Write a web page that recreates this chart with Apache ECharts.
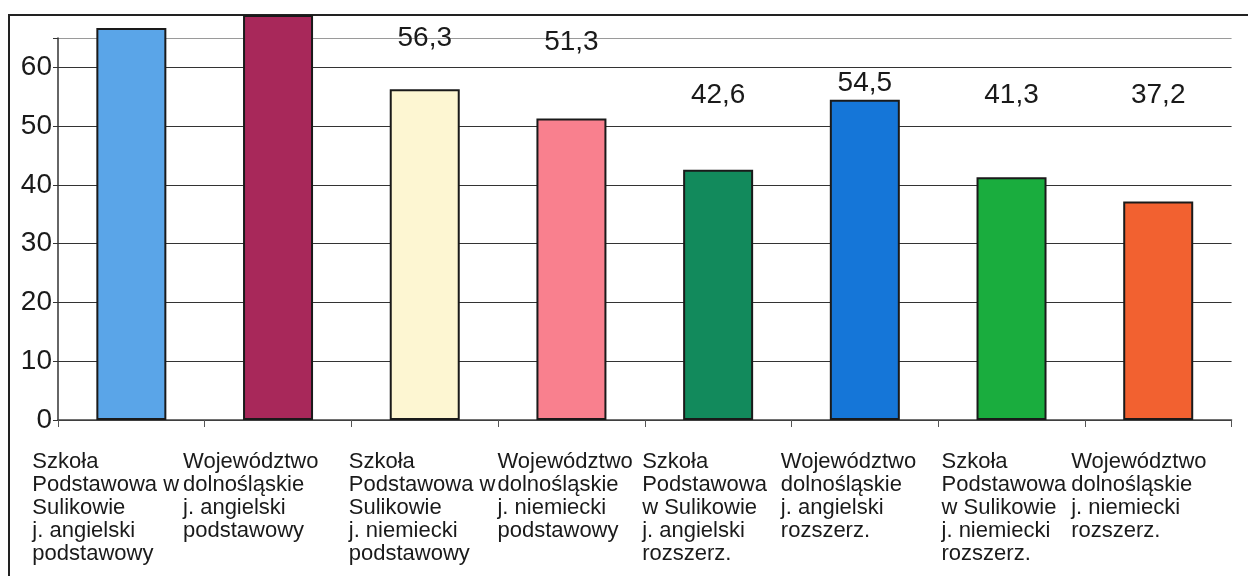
<!DOCTYPE html>
<html>
<head>
<meta charset="utf-8">
<title>Wyniki</title>
<script src="https://cdn.jsdelivr.net/npm/echarts@6/dist/echarts.min.js"></script>
<style>
  html, body { margin: 0; padding: 0; background: #fff; }
  #chart { width: 1248px; height: 576px; }
</style>
</head>
<body>
<div id="chart"></div>
<script>
// categories (each line of the wrapped axis label)
const categories = [
  ["Szkoła", "Podstawowa w", "Sulikowie", "j. angielski", "podstawowy"],
  ["Województwo", "dolnośląskie", "j. angielski", "podstawowy"],
  ["Szkoła", "Podstawowa w", "Sulikowie", "j. niemiecki", "podstawowy"],
  ["Województwo", "dolnośląskie", "j. niemiecki", "podstawowy"],
  ["Szkoła", "Podstawowa", "w Sulikowie", "j. angielski", "rozszerz."],
  ["Województwo", "dolnośląskie", "j. angielski", "rozszerz."],
  ["Szkoła", "Podstawowa", "w Sulikowie", "j. niemiecki", "rozszerz."],
  ["Województwo", "dolnośląskie", "j. niemiecki", "rozszerz."],
];
// values; the first two run past the top of the plot in the source
const values = [66.7, 68.9, 56.3, 51.3, 42.6, 54.5, 41.3, 37.2];
const showValue = [false, false, true, true, true, true, true, true];
const yTicks = [0, 10, 20, 30, 40, 50, 60];

// styling
const barColors = ["#5aa5e8", "#a8285a", "#fdf6d2", "#f9808e", "#128a5c", "#1576d8", "#1aad3e", "#f26130"];
const labelOffsetY = [0, 0, -32, -57, -55, 3, -63, -87];
const labelBoxW = [198, 190, 152, 148, 152, 168, 140, 174];
const FONT = "'Liberation Sans', Arial, sans-serif";

const rich = {};
labelBoxW.forEach((w, i) => {
  rich["c" + i] = { width: w, align: "left", fontSize: 22, lineHeight: 22.8, fontFamily: FONT, color: "#1a1a1a" };
});

const chart = echarts.init(document.getElementById("chart"));

chart.setOption({
  animation: false,
  backgroundColor: "#fff",
  textStyle: { fontFamily: FONT },
  graphic: [
    {
      type: "rect",
      silent: true,
      z: -1,
      shape: { x: 9, y: 15, width: 1300, height: 620 },
      style: { fill: "none", stroke: "#222", lineWidth: 2 },
    },
  ],
  grid: { left: 58, right: 13, top: 38, bottom: 156, containLabel: false },
  xAxis: {
    type: "category",
    data: categories.map((c) => c.join("\n")),
    axisLine: { lineStyle: { color: "#444", width: 1.5 } },
    axisTick: { show: true, length: 7, lineStyle: { color: "#555" } },
    axisLabel: {
      interval: 0,
      margin: 31,
      rich: rich,
      formatter(value, index) {
        return value.split("\n").map((s) => `{c${index}|${s}}`).join("\n");
      },
    },
    splitLine: { show: false },
  },
  yAxis: {
    type: "value",
    min: 0,
    max: 65,
    interval: 10,
    axisLine: { show: true, lineStyle: { color: "#333", width: 1.5 } },
    axisTick: { show: true, length: 5, lineStyle: { color: "#333" } },
    axisLabel: {
      margin: 6,
      fontSize: 28,
      color: "#1a1a1a",
      fontFamily: FONT,
      formatter(v) {
        return yTicks.includes(v) ? String(v) : "";
      },
    },
    splitLine: {
      show: true,
      lineStyle: { color: ["#333", "#333", "#333", "#333", "#333", "#333", "#333", "#9a9a9a"], width: 1.2 },
    },
  },
  series: [
    {
      type: "bar",
      clip: false,
      barWidth: 70,
      data: values.map((v, i) => ({
        value: v,
        itemStyle: { color: barColors[i], borderColor: "#1a1a1a", borderWidth: 2 },
        label: { show: showValue[i], offset: [0, labelOffsetY[i]] },
      })),
      label: {
        position: "top",
        fontSize: 28,
        color: "#1a1a1a",
        fontFamily: FONT,
        formatter(p) {
          return String(p.value).replace(".", ",");
        },
      },
    },
  ],
});
</script>
</body>
</html>
